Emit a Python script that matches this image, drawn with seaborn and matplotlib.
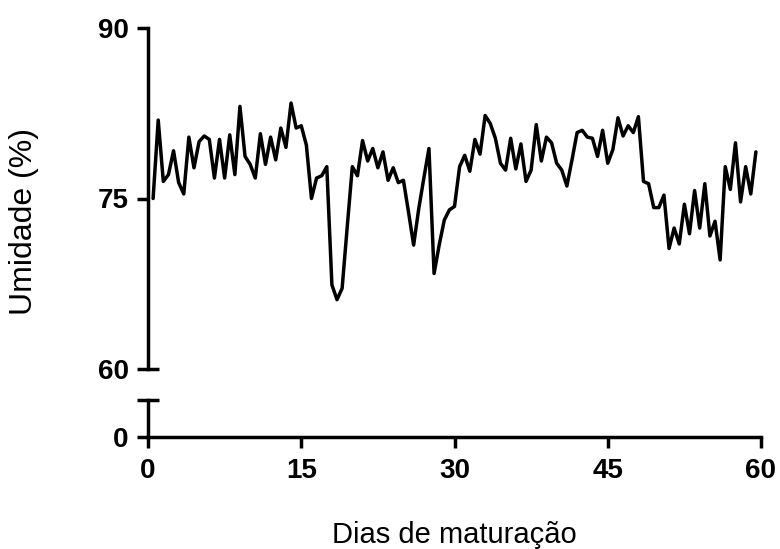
import numpy as np
import pandas as pd
import matplotlib
matplotlib.use("Agg")
import matplotlib.pyplot as plt
import seaborn as sns

# dias de maturação (medições a cada 0.5 dia)
dias = np.arange(0.5, 60.0, 0.5)
umidade = [
    75.0, 81.9, 76.5, 77.1, 79.2, 76.4, 75.4, 80.4, 77.7, 80.0,
    80.5, 80.2, 76.8, 80.2, 76.8, 80.6, 77.1, 83.1, 78.7, 78.0,
    76.8, 80.7, 78.0, 80.4, 78.4, 81.2, 79.5, 83.4, 81.2, 81.4,
    79.7, 75.0, 76.8, 77.0, 77.8, 67.4, 66.1, 67.1, 72.5, 77.8,
    77.0, 80.1, 78.3, 79.4, 77.7, 79.1, 76.6, 77.7, 76.4, 76.6,
    73.8, 70.9, 74.1, 76.8, 79.4, 68.4, 70.9, 73.1, 74.0, 74.3,
    77.8, 78.8, 77.4, 80.2, 78.9, 82.3, 81.6, 80.3, 78.1, 77.5,
    80.3, 77.6, 79.8, 76.5, 77.5, 81.5, 78.3, 80.4, 79.9, 78.1,
    77.5, 76.1, 78.4, 80.8, 81.0, 80.4, 80.3, 78.7, 81.0, 78.1,
    79.3, 82.1, 80.5, 81.4, 80.8, 82.2, 76.5, 76.3, 74.2, 74.2,
    75.3, 70.6, 72.4, 71.0, 74.5, 71.9, 75.7, 72.4, 76.3, 71.7,
    73.0, 69.6, 77.8, 75.8, 79.9, 74.7, 77.8, 75.4, 79.1,
]
xticks = [0, 15, 30, 45, 60]
yticks_top = [60, 75, 90]

df = pd.DataFrame({"dias": dias, "umidade": umidade})

sns.set_theme(style="ticks")
plt.rcParams["font.family"] = ["Liberation Sans", "DejaVu Sans"]
plt.rcParams["text.color"] = "black"
plt.rcParams["xtick.color"] = "black"
plt.rcParams["ytick.color"] = "black"
plt.rcParams["xtick.labelcolor"] = "black"
plt.rcParams["ytick.labelcolor"] = "black"
plt.rcParams["axes.edgecolor"] = "black"

lw = 2.5
tick_len = 8
fig = plt.figure(figsize=(7.8, 5.49), dpi=100)
ax_top = fig.add_axes([148 / 780, 1 - 369 / 549, 613 / 780, 341 / 549])
ax_bot = fig.add_axes([148 / 780, 1 - 437 / 549, 613 / 780, 37 / 549])

sns.lineplot(data=df, x="dias", y="umidade", ax=ax_top, color="black",
             linewidth=lw, clip_on=False)

# parte superior (60-90)
ax_top.set_xlim(0, 60)
ax_top.set_ylim(60, 90)
ax_top.yaxis.remove_overlapping_locs = False
ax_top.set_yticks(yticks_top)
ax_top.set_yticks([60], minor=True)
ax_top.set_xticks([])
for s in ["top", "right", "bottom"]:
    ax_top.spines[s].set_visible(False)
ax_top.spines["left"].set_linewidth(lw)
ax_top.tick_params(axis="y", which="major", direction="out", length=tick_len,
                   width=lw, pad=6, labelsize=20)
ax_top.tick_params(axis="y", which="minor", direction="in", length=tick_len,
                   width=lw)
for t in ax_top.get_yticklabels():
    t.set_fontweight("bold")
ax_top.set_xlabel("")
ax_top.set_ylabel("")

# parte inferior (0)
ax_bot.set_xlim(0, 60)
ax_bot.set_ylim(0, 1)
ax_bot.set_yticks([0])
ax_bot.set_yticks([1], minor=True)
ax_bot.set_xticks(xticks)
for s in ["top", "right"]:
    ax_bot.spines[s].set_visible(False)
ax_bot.spines["left"].set_linewidth(lw)
ax_bot.spines["bottom"].set_linewidth(lw)
ax_bot.tick_params(axis="both", which="major", direction="out", length=tick_len,
                   width=lw, labelsize=20)
ax_bot.tick_params(axis="y", which="major", pad=6)
ax_bot.tick_params(axis="x", which="major", pad=7)
ax_bot.tick_params(axis="y", which="minor", direction="inout",
                   length=2 * tick_len, width=lw)
for t in ax_bot.get_xticklabels() + ax_bot.get_yticklabels():
    t.set_fontweight("bold")

fig.text(454.5 / 780, 1 - 543 / 549, "Dias de maturação", ha="center",
         va="baseline", fontsize=21)
fig.text(24 / 780, 1 - 221.5 / 549, "Umidade (%)", ha="center", va="center",
         rotation=90, fontsize=23)

fig.savefig("out.png", dpi=100)
